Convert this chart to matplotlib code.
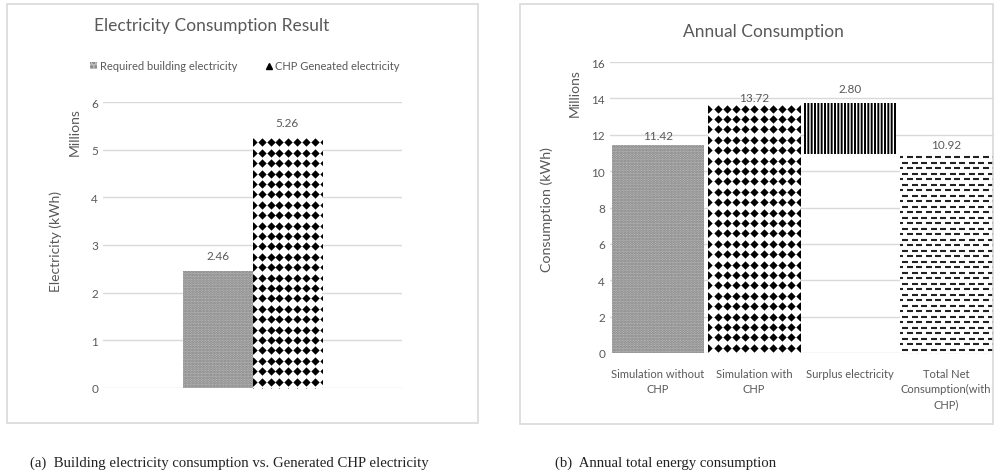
import matplotlib
matplotlib.use("Agg")
import matplotlib.pyplot as plt
import numpy as np
from matplotlib.patches import Rectangle, Patch
from matplotlib.lines import Line2D

# (a) building electricity vs CHP generated electricity (millions kWh)
elec_labels = ["Required building electricity", "CHP Geneated electricity"]
elec_values = [2.46, 5.26]

# (b) annual consumption (millions kWh)
annual_cats = ["Simulation without\nCHP", "Simulation with\nCHP", "Surplus electricity",
               "Total Net\nConsumption(with\nCHP)"]
annual_values = [11.42, 13.72, 2.80, 10.92]
annual_bottoms = [0, 0, 10.92, 0]

TXT = "#595959"
GRID = "#d9d9d9"
plt.rcParams['font.family'] = ['Lato', 'DejaVu Sans']
plt.rcParams['hatch.linewidth'] = 1.4


def pattern_fill(ax, bar, marker, dx, dy, s, color="black", stagger=False, lw=0):
    # fill a bar with a grid of markers (pixel spacing), clipped to the bar,
    # rows start from the top edge
    x0, y0 = bar.get_xy()
    t = ax.transData
    px0, py0 = t.transform((x0, y0))
    px1, py1 = t.transform((x0 + bar.get_width(), y0 + bar.get_height()))
    pts = []
    for i, yy in enumerate(np.arange(py1 - dy / 2, py0 - dy, -dy)):
        off = dx / 2 if (stagger and i % 2) else 0
        for xx in np.arange(px0 + off, px1 + dx, dx):
            pts.append((xx, yy))
    pts = t.inverted().transform(np.array(pts))
    sc = ax.scatter(pts[:, 0], pts[:, 1], marker=marker, s=s, c=color,
                    linewidths=lw, zorder=3)
    sc.set_clip_path(bar)


def style_axes(ax):
    for sp in ax.spines.values():
        sp.set_visible(False)
    ax.grid(axis="y", color=GRID, lw=1)
    ax.set_axisbelow(True)
    ax.tick_params(length=0, colors=TXT, labelsize=8.5)


fig = plt.figure(figsize=(9.96, 4.77), dpi=100)
W, H = 996, 477

# frames around both charts
for x0, y0, x1, y1 in [(7, 5, 478, 424), (520, 5, 993, 425)]:
    fig.patches.append(Rectangle((x0 / W, 1 - y1 / H), (x1 - x0) / W, (y1 - y0) / H,
                                 transform=fig.transFigure, fill=False,
                                 edgecolor=GRID, lw=1.2))

# ---- (a)
ax1 = fig.add_axes([103 / W, 1 - 389 / H, 299 / W, 286 / H])
style_axes(ax1)
ax1.set_xlim(-0.5, 0.5)
ax1.set_ylim(0, 6)
ax1.set_yticks(range(0, 7))
ax1.set_xticks([])
bw = 0.232
b1 = ax1.bar(-bw / 2, elec_values[0], bw, facecolor="#bcbcbc", edgecolor="#808080",
             hatch="......", lw=0, zorder=2)
b2 = ax1.bar(bw / 2, elec_values[1], bw, facecolor="white", lw=0, zorder=2)
pattern_fill(ax1, b2[0], "D", 9, 10.4, 18)
for b, v in zip(list(b1) + list(b2), elec_values):
    ax1.annotate(f"{v:.2f}", (b.get_x() + b.get_width() / 2, v), xytext=(0, 7),
                 textcoords="offset points", ha="center", va="bottom",
                 color=TXT, fontsize=8.5)

handles = [Patch(facecolor="#bcbcbc", edgecolor="#808080", hatch="....", lw=0),
           Line2D([], [], marker="^", ls="", color="black", markersize=4)]
fig.legend(handles, elec_labels, loc="center", bbox_to_anchor=(245 / W, 1 - 67 / H),
           ncol=2, frameon=False, fontsize=8, labelcolor=TXT, handlelength=0.6,
           handletextpad=0.3, columnspacing=2.5, handleheight=0.6)
fig.text(212 / W, 1 - 26 / H, "Electricity Consumption Result", ha="center",
         va="center", fontsize=12.5, color=TXT)
fig.text(56 / W, 1 - 242 / H, "Electricity (kWh)", rotation=90, ha="center",
         va="center", fontsize=10, color=TXT)
fig.text(75 / W, 1 - 132 / H, "Millions", rotation=90, ha="center",
         va="center", fontsize=10, color=TXT)

# ---- (b)
ax2 = fig.add_axes([610 / W, 1 - 354 / H, 384 / W, 291 / H])
style_axes(ax2)
x = np.arange(len(annual_cats))
ax2.set_xlim(-0.5, len(annual_cats) - 0.5)
ax2.set_ylim(0, 16)
ax2.set_yticks(range(0, 17, 2))
ax2.set_xticks(x)
ax2.set_xticklabels(annual_cats, fontsize=8, color=TXT, linespacing=1.45)
ax2.tick_params(axis="x", pad=11)
bars = ax2.bar(x, annual_values, 0.95, bottom=annual_bottoms, facecolor="white",
               lw=0, zorder=2)
bars[0].set_facecolor("#bcbcbc")
bars[0].set_edgecolor("#808080")
bars[0].set_hatch("......")
pattern_fill(ax2, bars[1], "D", 9.2, 10.4, 18)
bars[2].set_edgecolor("black")
bars[2].set_hatch("|||||")
pattern_fill(ax2, bars[3], "_", 9.5, 5.5, 13, color="#222222", stagger=True, lw=1.5)
pads = [3, 0, 7, 3]
for b, v, bt, p in zip(bars, annual_values, annual_bottoms, pads):
    ax2.annotate(f"{v:.2f}", (b.get_x() + b.get_width() / 2, bt + v), xytext=(0, p),
                 textcoords="offset points", ha="center", va="bottom",
                 color=TXT, fontsize=8.5)
fig.text(763 / W, 1 - 32 / H, "Annual Consumption", ha="center",
         va="center", fontsize=12.5, color=TXT)
fig.text(547 / W, 1 - 210 / H, "Consumption (kWh)", rotation=90, ha="center",
         va="center", fontsize=10.3, color=TXT)
fig.text(575 / W, 1 - 93 / H, "Millions", rotation=90, ha="center",
         va="center", fontsize=10, color=TXT)

# captions
fig.text(30 / W, 1 - 463 / H, "(a)  Building electricity consumption vs. Generated CHP electricity",
         ha="left", va="center", fontsize=10.6, family="Liberation Serif", color="#222222")
fig.text(555 / W, 1 - 463 / H, "(b)  Annual total energy consumption",
         ha="left", va="center", fontsize=10.6, family="Liberation Serif", color="#222222")

fig.savefig("out.png", dpi=100)
